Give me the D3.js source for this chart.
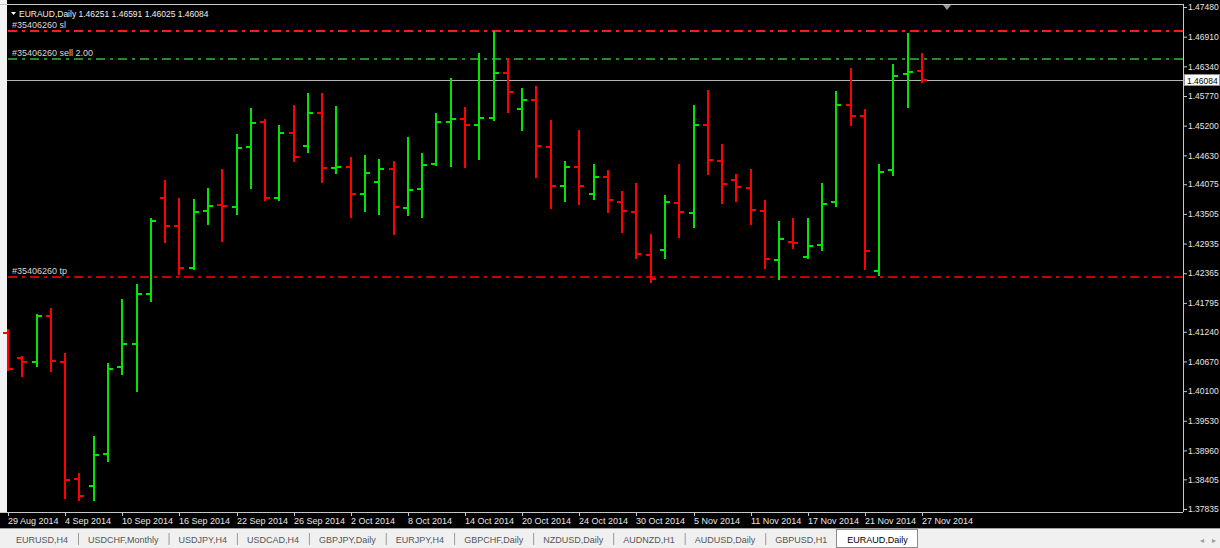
<!DOCTYPE html>
<html>
<head>
<meta charset="utf-8">
<script src="https://cdn.jsdelivr.net/npm/d3@7"></script>
<style>
  body { margin: 0; background: #000; overflow: hidden; }
  svg { display: block; font-family: "Liberation Sans", Arial, sans-serif; }
</style>
</head>
<body>
<svg id="chart" width="1220" height="548"></svg>
<script>
// daily bars, EURAUD
const dates = [
  "2014-08-29",
  "2014-09-01", "2014-09-02", "2014-09-03", "2014-09-04", "2014-09-05",
  "2014-09-08", "2014-09-09", "2014-09-10", "2014-09-11", "2014-09-12",
  "2014-09-15", "2014-09-16", "2014-09-17", "2014-09-18", "2014-09-19",
  "2014-09-22", "2014-09-23", "2014-09-24", "2014-09-25", "2014-09-26",
  "2014-09-29", "2014-09-30", "2014-10-01", "2014-10-02", "2014-10-03",
  "2014-10-06", "2014-10-07", "2014-10-08", "2014-10-09", "2014-10-10",
  "2014-10-13", "2014-10-14", "2014-10-15", "2014-10-16", "2014-10-17",
  "2014-10-20", "2014-10-21", "2014-10-22", "2014-10-23", "2014-10-24",
  "2014-10-27", "2014-10-28", "2014-10-29", "2014-10-30", "2014-10-31",
  "2014-11-03", "2014-11-04", "2014-11-05", "2014-11-06", "2014-11-07",
  "2014-11-10", "2014-11-11", "2014-11-12", "2014-11-13", "2014-11-14",
  "2014-11-17", "2014-11-18", "2014-11-19", "2014-11-20", "2014-11-21",
  "2014-11-24", "2014-11-25", "2014-11-26", "2014-11-27"
];

const opens = [1.41217,
  1.40736, 1.40654, 1.41549, 1.40654, 1.38417, 1.38283, 1.38886, 1.40563, 1.41011, 1.41972,
  1.43816, 1.43267, 1.42471, 1.43555, 1.43682, 1.43643, 1.44796, 1.45265, 1.43816, 1.45053,
  1.44815, 1.45449, 1.44381, 1.44412, 1.43887, 1.44124, 1.44368, 1.43624, 1.43983, 1.44464,
  1.45271, 1.45328, 1.45219, 1.45353, 1.46218, 1.45515, 1.45687, 1.44790, 1.44041, 1.44412,
  1.43887, 1.44208, 1.43739, 1.43541, 1.42715, 1.42811, 1.43714, 1.43528, 1.45219, 1.44521,
  1.44156, 1.44002, 1.43561, 1.42619, 1.42959, 1.42683, 1.42902, 1.43728, 1.45597, 1.45392,
  1.42414, 1.44343, 1.46187, 1.46251];
const highs = [1.41293,
  1.40780, 1.41582, 1.41697, 1.40832, 1.38521, 1.39238, 1.40646, 1.41870, 1.42158, 1.43426,
  1.44156, 1.43810, 1.43791, 1.44002, 1.44362, 1.45046, 1.45545, 1.45322, 1.45213, 1.45597,
  1.45822, 1.45833, 1.45578, 1.44593, 1.44631, 1.44554, 1.44527, 1.44977, 1.44669, 1.45438,
  1.46110, 1.45553, 1.46590, 1.47019, 1.46500, 1.45918, 1.45968, 1.45303, 1.44527, 1.45117,
  1.44464, 1.44343, 1.43945, 1.44093, 1.43119, 1.43862, 1.44464, 1.45597, 1.45885, 1.44842,
  1.44271, 1.44373, 1.43772, 1.43368, 1.43432, 1.43432, 1.44099, 1.45866, 1.46302, 1.45520,
  1.44464, 1.46385, 1.46986, 1.46591];
const lows = [1.40487,
  1.40365, 1.40569, 1.40467, 1.38021, 1.37995, 1.37995, 1.38744, 1.40415, 1.40089, 1.41806,
  1.42952, 1.42337, 1.42421, 1.43297, 1.42971, 1.43490, 1.43989, 1.43747, 1.43758, 1.44508,
  1.44681, 1.44104, 1.44266, 1.43420, 1.43541, 1.43490, 1.43099, 1.43470, 1.43420, 1.44431,
  1.44412, 1.44381, 1.44535, 1.45295, 1.45449, 1.45103, 1.44200, 1.43593, 1.43728, 1.43682,
  1.43778, 1.43528, 1.43144, 1.42644, 1.42183, 1.42644, 1.43048, 1.43228, 1.44247, 1.43701,
  1.43728, 1.43286, 1.42446, 1.42229, 1.42836, 1.42633, 1.42798, 1.43643, 1.45199, 1.42427,
  1.42317, 1.44227, 1.45534, 1.46025];
const closes = [1.40531,
  1.40654, 1.41543, 1.40673, 1.38386, 1.38079, 1.38867, 1.40531, 1.41011, 1.41960, 1.43368,
  1.43278, 1.42471, 1.43541, 1.43657, 1.43651, 1.44777, 1.45257, 1.43816, 1.45053, 1.44604,
  1.45449, 1.44381, 1.44412, 1.43887, 1.44296, 1.44368, 1.43643, 1.43970, 1.44444, 1.45271,
  1.45328, 1.45219, 1.45342, 1.46218, 1.45841, 1.45687, 1.44809, 1.44041, 1.44412, 1.44041,
  1.44208, 1.43766, 1.43561, 1.42729, 1.42260, 1.43728, 1.43541, 1.45219, 1.44535, 1.44085,
  1.44022, 1.43574, 1.42633, 1.43023, 1.42940, 1.42888, 1.43695, 1.45597, 1.45392, 1.42798,
  1.44310, 1.46160, 1.46230, 1.46084];

const priceTicks = [1.47480, 1.46910, 1.46340, 1.45770, 1.45200, 1.44630, 1.44075, 1.43505,
  1.42935, 1.42365, 1.41795, 1.41240, 1.40670, 1.40100, 1.39530, 1.38960, 1.38405, 1.37835];
const dateTicks = ["2014-08-29", "2014-09-04", "2014-09-10", "2014-09-16", "2014-09-22", "2014-09-26",
  "2014-10-02", "2014-10-08", "2014-10-14", "2014-10-20", "2014-10-24", "2014-10-30",
  "2014-11-05", "2014-11-11", "2014-11-17", "2014-11-21", "2014-11-27"];

// order lines
const orderNames = ["#35406260 sl", "#35406260 sell 2.00", "#35406260 tp"];
const orderPrices = [1.47019, 1.46481, 1.42293];
const orderColors = ["#ff1a1a", "#2a8a2a", "#c80000"];
const bid = 1.46084;

const header = "EURAUD,Daily  1.46251 1.46591 1.46025 1.46084";
const tabs = ["EURUSD,H4", "USDCHF,Monthly", "USDJPY,H4", "USDCAD,H4", "GBPJPY,Daily", "EURJPY,H4",
  "GBPCHF,Daily", "NZDUSD,Daily", "AUDNZD,H1", "AUDUSD,Daily", "GBPUSD,H1", "EURAUD,Daily"];
const activeTab = "EURAUD,Daily";

const W = 1220, H = 548;
const plot = { left: 7, right: 1183, top: 4, bottom: 512 };
const bull = "#00e600", bear = "#ff0000", fg = "#e6e6e6";

const svg = d3.select("#chart");
svg.append("rect").attr("width", W).attr("height", H).attr("fill", "#000");

const y = d3.scaleLinear().domain([1.37835, 1.47480]).range([509, 7]);
const x = d3.scalePoint().domain(dates).range([8, 922]);
const parse = d3.timeParse("%Y-%m-%d");
const fmtDate = d3.timeFormat("%-d %b %Y");

// window edge on the left
svg.append("rect").attr("x", 0).attr("y", 0).attr("width", plot.left).attr("height", plot.bottom)
  .attr("fill", "#f2f2f2");

const g = svg.append("g").attr("shape-rendering", "crispEdges");

// order lines (dash dot)
orderPrices.forEach((p, i) => {
  const yy = Math.round(y(p));
  g.append("line")
    .attr("x1", plot.left + 1).attr("x2", plot.right)
    .attr("y1", yy).attr("y2", yy)
    .attr("stroke", orderColors[i]).attr("stroke-width", 2)
    .attr("stroke-dasharray", "9,5,3,5");
  svg.append("text")
    .attr("x", 12).attr("y", yy - 3)
    .attr("fill", "#d8d8d8").attr("font-size", "9px")
    .text(orderNames[i]);
});

// bid line
const bidY = Math.round(y(bid)) + 0.5;
g.append("line").attr("x1", plot.left).attr("x2", plot.right)
  .attr("y1", bidY).attr("y2", bidY).attr("stroke", "#b4b4b4");

// OHLC bars
const bars = g.append("g");
dates.forEach((d, i) => {
  const cx = Math.round(x(d));
  const col = closes[i] >= opens[i] ? bull : bear;
  const yh = Math.round(y(highs[i])), yl = Math.round(y(lows[i]));
  const yo = Math.round(y(opens[i])), yc = Math.round(y(closes[i]));
  bars.append("rect").attr("x", cx - 1).attr("y", yh).attr("width", 2).attr("height", Math.max(2, yl - yh)).attr("fill", col);
  bars.append("rect").attr("x", cx - 5).attr("y", yo - 1).attr("width", 4).attr("height", 2).attr("fill", col);
  bars.append("rect").attr("x", cx + 1).attr("y", yc - 1).attr("width", 4).attr("height", 2).attr("fill", col);
});

// frame
g.append("line").attr("x1", 0).attr("x2", plot.right).attr("y1", plot.top + 0.5).attr("y2", plot.top + 0.5).attr("stroke", "#c8c8c8");
g.append("line").attr("x1", plot.right + 0.5).attr("x2", plot.right + 0.5).attr("y1", plot.top).attr("y2", plot.bottom).attr("stroke", "#c8c8c8");
g.append("line").attr("x1", 0).attr("x2", plot.right).attr("y1", plot.bottom + 0.5).attr("y2", plot.bottom + 0.5).attr("stroke", "#c8c8c8");

// chart shift marker
svg.append("path").attr("d", "M943,5 L951,5 L947,10 Z").attr("fill", "#9a9a9a");

// price axis
const yAxis = d3.axisRight(y).tickValues(priceTicks).tickFormat(d3.format(".5f")).tickSize(3).tickPadding(1);
const ya = svg.append("g").attr("transform", `translate(${plot.right + 1},0)`).call(yAxis);
ya.select(".domain").remove();
ya.selectAll(".tick line").attr("stroke", "#c8c8c8");
ya.selectAll(".tick text").attr("fill", fg).attr("font-size", "8.5px").attr("font-family", "Liberation Sans, Arial, sans-serif");

// bid label on price axis
svg.append("rect").attr("x", plot.right + 1.5).attr("y", bidY - 6).attr("width", 35).attr("height", 11)
  .attr("fill", "#fff").attr("stroke", "#909090").attr("shape-rendering", "crispEdges");
svg.append("text").attr("x", plot.right + 4).attr("y", bidY + 3.5).attr("font-size", "8.5px").attr("fill", "#000")
  .text(d3.format(".5f")(bid));

// time axis
const xa = svg.append("g").attr("transform", `translate(0,${plot.bottom + 1})`);
dateTicks.forEach(d => {
  const tx = Math.round(x(d)) + 0.5;
  xa.append("line").attr("x1", tx).attr("x2", tx).attr("y1", 0).attr("y2", 3).attr("stroke", "#c8c8c8");
  xa.append("text").attr("x", tx - 0.5).attr("y", 11).attr("font-size", "9px").attr("fill", fg)
    .text(fmtDate(parse(d)));
});

// header
svg.append("path").attr("d", "M11,12 L16,12 L13.5,15 Z").attr("fill", "#fff");
svg.append("text").attr("x", 19).attr("y", 17).attr("font-size", "8.5px").attr("fill", "#f0f0f0")
  .text(header.replace("  ", " "));

// tab bar
const tb = svg.append("g").attr("transform", "translate(0,528)");
tb.append("rect").attr("width", W).attr("height", 20).attr("fill", "#f0f0f0");
tb.append("line").attr("x1", 0).attr("x2", W).attr("y1", 0.5).attr("y2", 0.5).attr("stroke", "#a0a0a0");
let tx = 16;
tabs.forEach((name, i) => {
  const active = name === activeTab;
  const t = tb.append("text").attr("x", tx).attr("y", 15).attr("font-size", "9px")
    .attr("fill", active ? "#000" : "#555").text(name);
  const w = t.node().getComputedTextLength();
  if (active) {
    tb.insert("rect", "text").attr("x", tx - 10.5).attr("y", 1.5).attr("width", w + 20).attr("height", 18)
      .attr("fill", "#fff").attr("stroke", "#8a8a8a").attr("shape-rendering", "crispEdges");
  } else if (i < tabs.length - 2) {
    tb.append("line").attr("x1", tx + w + 10.5).attr("x2", tx + w + 10.5).attr("y1", 5).attr("y2", 17)
      .attr("stroke", "#999");
  }
  tx += w + 20;
});
tb.append("text").attr("x", 1200).attr("y", 15).attr("font-size", "8px").attr("fill", "#999").text("\u25C2");
tb.append("text").attr("x", 1212).attr("y", 15).attr("font-size", "8px").attr("fill", "#999").text("\u25B8");
</script>
</body>
</html>
